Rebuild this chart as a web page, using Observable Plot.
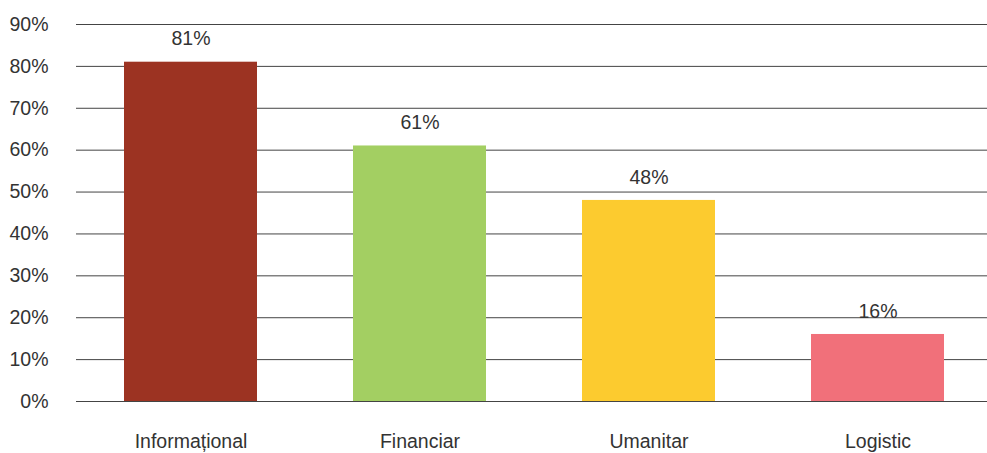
<!DOCTYPE html>
<html><head><meta charset="utf-8">
<script src="https://cdn.jsdelivr.net/npm/d3@7"></script>
<script src="https://cdn.jsdelivr.net/npm/@observablehq/plot@0.6"></script>
<style>body{margin:0;background:#fff;font-family:"Liberation Sans",Arial,sans-serif;}</style>
</head><body><div id="chart"></div>
<script>
const categories = ["Informațional", "Financiar", "Umanitar", "Logistic"];
const values = [0.81, 0.61, 0.48, 0.16];
const colors = ["#9c3322", "#a3cf62", "#fccb2f", "#f1707a"];
const yTicks = [0, 0.1, 0.2, 0.3, 0.4, 0.5, 0.6, 0.7, 0.8, 0.9];
const data = categories.map((c, i) => ({category: c, value: values[i]}));

const chart = Plot.plot({
  width: 987, height: 453,
  marginTop: 24, marginBottom: 52, marginLeft: 76, marginRight: 0,
  style: {fontFamily: '"Liberation Sans", Arial, sans-serif', fontSize: "19.5px", color: "#333", background: "#fff", overflow: "hidden"},
  x: {domain: categories, range: [75.5, 991.5], paddingInner: 0.42, paddingOuter: 0.21, label: null, tickSize: 0, tickPadding: 33},
  y: {domain: [0, 0.9], label: null, ticks: yTicks, tickFormat: d => Math.round(d*100) + "%", tickSize: 0, tickPadding: 28},
  color: {domain: categories, range: colors},
  marks: [
    Plot.ruleY(yTicks, {stroke: "#444", strokeWidth: 1}),
    Plot.barY(data, {x: "category", y: "value", fill: "category"}),
    Plot.text(data, {x: "category", y: "value", text: d => Math.round(d.value*100) + "%", dy: -23, fontSize: 19.5, fill: "#333"})
  ]
});
document.getElementById("chart").append(chart);
</script></body></html>
